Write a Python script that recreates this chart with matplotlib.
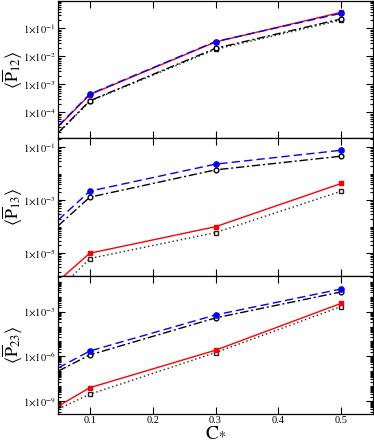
import numpy as np
import matplotlib
matplotlib.use('Agg')
from matplotlib import pyplot as plt
from matplotlib.ticker import FixedLocator, FixedFormatter, LogLocator, NullFormatter

plt.rcParams['font.family'] = ['Liberation Serif', 'DejaVu Serif']
plt.rcParams['mathtext.fontset'] = 'stix'

# concentration values
c_star = [0.05, 0.1, 0.3, 0.5]
x_ticks = [0.1, 0.2, 0.3, 0.4, 0.5]

# <P12>
p12_blue = [3.3e-5, 4.5e-4, 0.034, 0.35]
p12_red = [3.1e-5, 4.3e-4, 0.033, 0.38]
p12_black = [1.9e-5, 2.6e-4, 0.0195, 0.22]
p12_dot = [1.8e-5, 2.5e-4, 0.018, 0.20]

# <P13>
p13_blue = [1.8e-4, 2.2e-3, 0.023, 0.077]
p13_black = [1.1e-4, 1.3e-3, 0.014, 0.046]
p13_red = [9e-7, 1.0e-5, 1.0e-4, 4.3e-3]
p13_dot = [4e-7, 6.3e-6, 6e-5, 2.2e-3]

# <P23>
p23_blue = [1.7e-7, 2.3e-6, 6e-4, 0.033]
p23_black = [1.05e-7, 1.25e-6, 3.8e-4, 0.021]
p23_red = [4.7e-10, 8e-9, 2.6e-6, 3.6e-3]
p23_dot = [3e-10, 2.9e-9, 1.8e-6, 2.2e-3]

panels = [
    (r'$\langle\overline{\mathrm{P}}_{12}\rangle$', p12_blue, p12_red, p12_black, p12_dot,
     (1.2e-5, 1.0), [-4, -3, -2, -1]),
    (r'$\langle\overline{\mathrm{P}}_{13}\rangle$', p13_blue, p13_red, p13_black, p13_dot,
     (1.4e-6, 0.22), [-5, -3, -1]),
    (r'$\langle\overline{\mathrm{P}}_{23}\rangle$', p23_blue, p23_red, p23_black, p23_dot,
     (1.5e-10, 0.25), [-9, -6, -3]),
]

fig = plt.figure(figsize=(3.74, 4.46), dpi=100)
left, width = 58.3 / 374, 314.4 / 374
bottom = 1 - 413.5 / 446
h = (413.5 - 0.5) / 3 / 446

for i, (label, blue, red, black, dot, ylim, majors) in enumerate(panels):
    ax = fig.add_axes([left, bottom + (2 - i) * h, width, h])
    mk = [1, 2, 3]
    ax.plot(c_star, dot, color='#222222', ls=(0, (1, 2)), lw=1.0, marker='s', ms=3.2,
            mfc='white', mec='#222222', mew=1.0, markevery=mk)
    ax.plot(c_star, black, color='black', ls=(0, (6, 2, 1.5, 2)), lw=1.0, marker='o', ms=3.4,
            mfc='white', mec='black', mew=1.0, markevery=mk)
    ax.plot(c_star, red, color='red', ls='-', lw=1.0, marker='s', ms=3.4,
            mfc='red', mec='red', markevery=mk)
    ax.plot(c_star, blue, color='blue', ls=(0, (6, 3)), lw=1.0, marker='o', ms=3.8,
            mfc='blue', mec='blue', markevery=mk)

    ax.set_yscale('log')
    ax.set_xlim(0.05, 0.55)
    ax.set_ylim(*ylim)

    ax.yaxis.set_major_locator(FixedLocator([10.0 ** e for e in majors]))
    ax.yaxis.set_major_formatter(
        FixedFormatter([r'$1{\times}10^{%d}$' % e for e in majors]))
    ax.yaxis.set_minor_locator(LogLocator(base=10, subs=np.arange(1, 10), numticks=100))
    ax.yaxis.set_minor_formatter(NullFormatter())

    ax.set_xticks(x_ticks)
    if i == 2:
        ax.set_xticklabels(['%.1f' % v for v in x_ticks], fontsize=8)
        ax.set_xlabel(r'$\mathrm{C}_{*}$', fontsize=14, labelpad=-1)
    else:
        ax.set_xticklabels([])

    ax.tick_params(which='both', direction='in', top=True, right=True, labelsize=7.5, width=0.8)
    ax.tick_params(which='major', length=5, pad=2)
    ax.tick_params(which='minor', length=2.5)
    for sp in ax.spines.values():
        sp.set_linewidth(0.9)

    ax.set_ylabel(label, fontsize=13)
    ax.yaxis.set_label_coords(-0.105, 0.5)

fig.savefig('out.png', dpi=100)
